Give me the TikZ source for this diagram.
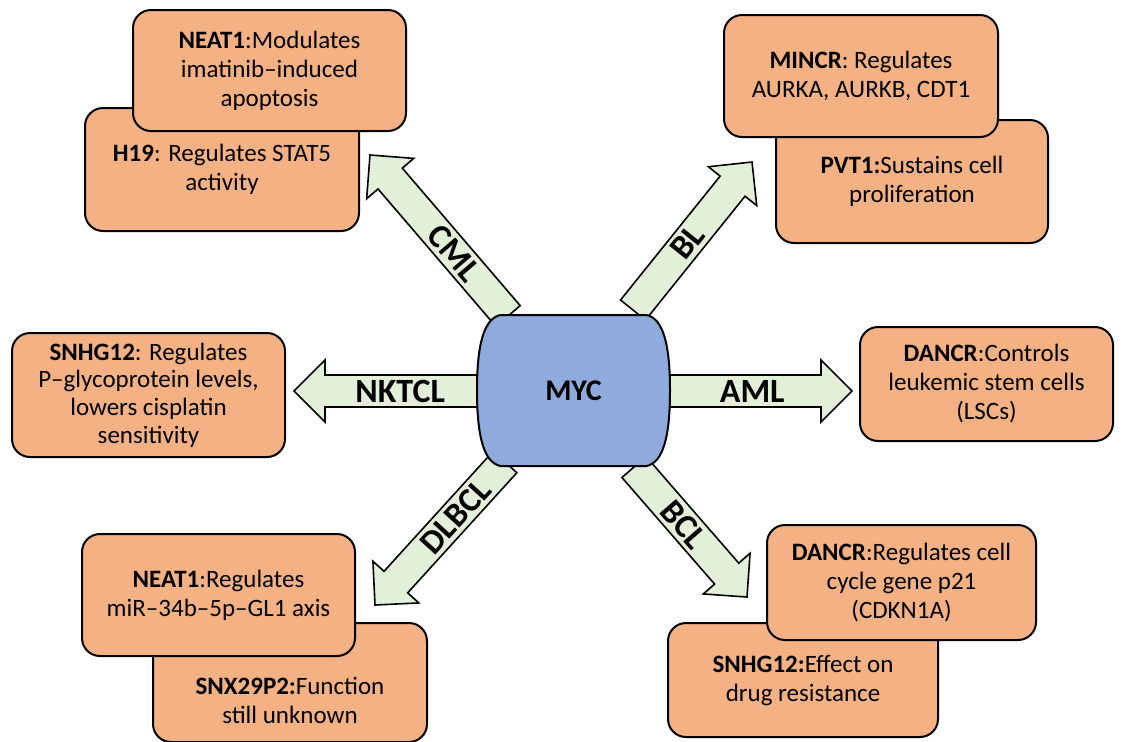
\documentclass[tikz,border=0pt]{standalone}
\usepackage{fontspec}
\setmainfont{Carlito}
\usepackage{xcolor}
\usepackage{tikz}
\usetikzlibrary{calc,backgrounds}

\definecolor{boxorange}{RGB}{244,177,131}
\definecolor{arrowgreen}{RGB}{226,240,217}
\definecolor{mycblue}{RGB}{143,170,220}

% block arrow from #1 (tail) to #2 (tip)
\newcommand{\fatarrow}[2]{%
  \coordinate (#1-h) at ($(#2)!15.5pt!(#1)$);
  \draw[fatbody] ($(#1)!8pt!90:(#2)$) -- ($(#1-h)!8pt!90:(#2)$) -- ($(#1-h)!15.5pt!90:(#2)$) -- (#2)
    -- ($(#1-h)!15.5pt!-90:(#2)$) -- ($(#1-h)!8pt!-90:(#2)$) -- ($(#1)!8pt!-90:(#2)$) -- cycle;
}

\begin{document}
\begin{tikzpicture}[x=0.5pt, y=-0.5pt,
        infobox/.style={draw, fill=boxorange, line width=1pt, rounded corners=9pt, align=center,
            inner sep=0pt, font=\fontsize{12.5}{14.5}\selectfont},
        fatbody/.style={draw, fill=arrowgreen, line width=0.8pt},
        armlabel/.style={font=\fontsize{17}{17}\selectfont\bfseries, inner sep=0pt}]
        \useasboundingbox (0,0) rectangle (1129,741);

        % CML
        \node[infobox, minimum width=137pt, minimum height=61.5pt] (h19) at (222,169.5) {\textbf{H19}: Regulates STAT5\\ activity};
        \node[infobox, minimum width=136.5pt, minimum height=60.5pt] (neatcml) at (269.5,70.5) {\textbf{NEAT1}:Modulates\\ imatinib–induced\\ apoptosis};
        % BL
        \node[infobox, minimum width=136pt, minimum height=61.5pt] (pvt) at (912,181.5) {\textbf{PVT1:}Sustains cell\\ proliferation};
        \node[infobox, minimum width=137pt, minimum height=61pt] (mincr) at (861,76) {\textbf{MINCR}: Regulates\\ AURKA, AURKB, CDT1};
        % NKTCL and AML
        \node[infobox, minimum width=136.5pt, minimum height=62pt, font=\fontsize{12.5}{13.8}\selectfont] (snhgnk) at (148.5,395) {\textbf{SNHG12}: Regulates\\ P–glycoprotein levels,\\ lowers cisplatin\\ sensitivity};
        \node[infobox, minimum width=126.5pt, minimum height=57pt] (dancraml) at (986.5,384) {\textbf{DANCR}:Controls\\ leukemic stem cells\\ (LSCs)};
        % DLBCL
        \node[infobox, minimum width=137pt, minimum height=59.5pt] (snx) at (290,682.5) {};
        \node[align=center, font=\fontsize{12.5}{14.5}\selectfont] (snxtext) at (290,700) {\textbf{SNX29P2:}Function\\ still unknown};
        \node[infobox, minimum width=136.5pt, minimum height=61pt] (neatdl) at (218.5,595) {\textbf{NEAT1}:Regulates\\ miR–34b–5p–GL1 axis};
        % BCL
        \node[infobox, minimum width=135pt, minimum height=57pt] (snhgbcl) at (803,680) {\textbf{SNHG12:}Effect on\\ drug resistance};
        \node[infobox, minimum width=134.5pt, minimum height=57.5pt] (dancrbcl) at (901.5,582.5) {\textbf{DANCR}:Regulates cell\\ cycle gene p21\\ (CDKN1A)};

        % centre
        \node[font=\fontsize{15}{15}\selectfont\bfseries] (myc) at (573.5,390.5) {MYC};

        \coordinate (cml-s) at (508,316);  \coordinate (cml-e) at (370,155);
        \coordinate (bl-s) at (633,310);   \coordinate (bl-e) at (752,162);
        \coordinate (nk-s) at (530,391);   \coordinate (nk-e) at (294,391);
        \coordinate (aml-s) at (620,391);  \coordinate (aml-e) at (852,391);
        \coordinate (dl-s) at (505,462);   \coordinate (dl-e) at (375,605);
        \coordinate (bcl-s) at (634,467);  \coordinate (bcl-e) at (747,597);

        \begin{pgfonlayer}{background}
            \fatarrow{cml-s}{cml-e}
            \fatarrow{bl-s}{bl-e}
            \fatarrow{nk-s}{nk-e}
            \fatarrow{aml-s}{aml-e}
            \fatarrow{dl-s}{dl-e}
            \fatarrow{bcl-s}{bcl-e}
            \draw[fill=mycblue, line width=1pt, shift={(myc.center)}] (-73,-75.5) -- (73,-75.5)
                .. controls (90,-72) and (96.5,-45) .. (96.5,0) .. controls (96.5,45) and (90,72) .. (73,75.5)
                -- (-73,75.5) .. controls (-90,72) and (-96.5,45) .. (-96.5,0)
                .. controls (-96.5,-45) and (-90,-72) .. (-73,-75.5) -- cycle;
        \end{pgfonlayer}

        \node[armlabel, rotate=-49.3] (cml) at ($(cml-s)!0.39!(cml-e)$) {CML};
        \node[armlabel, rotate=51.2] (bl) at ($(bl-s)!0.46!(bl-e)$) {BL};
        \node[armlabel] (nktcl) at ($(nk-s)!0.55!(nk-e)$) {NKTCL};
        \node[armlabel] (aml) at ($(aml-s)!0.57!(aml-e)$) {AML};
        \node[armlabel, rotate=47.7] (dlbcl) at ($(dl-s)!0.38!(dl-e)$) {DLBCL};
        \node[armlabel, rotate=-49] (bcl) at ($(bcl-s)!0.44!(bcl-e)$) {BCL};
    \end{tikzpicture}
\end{document}
